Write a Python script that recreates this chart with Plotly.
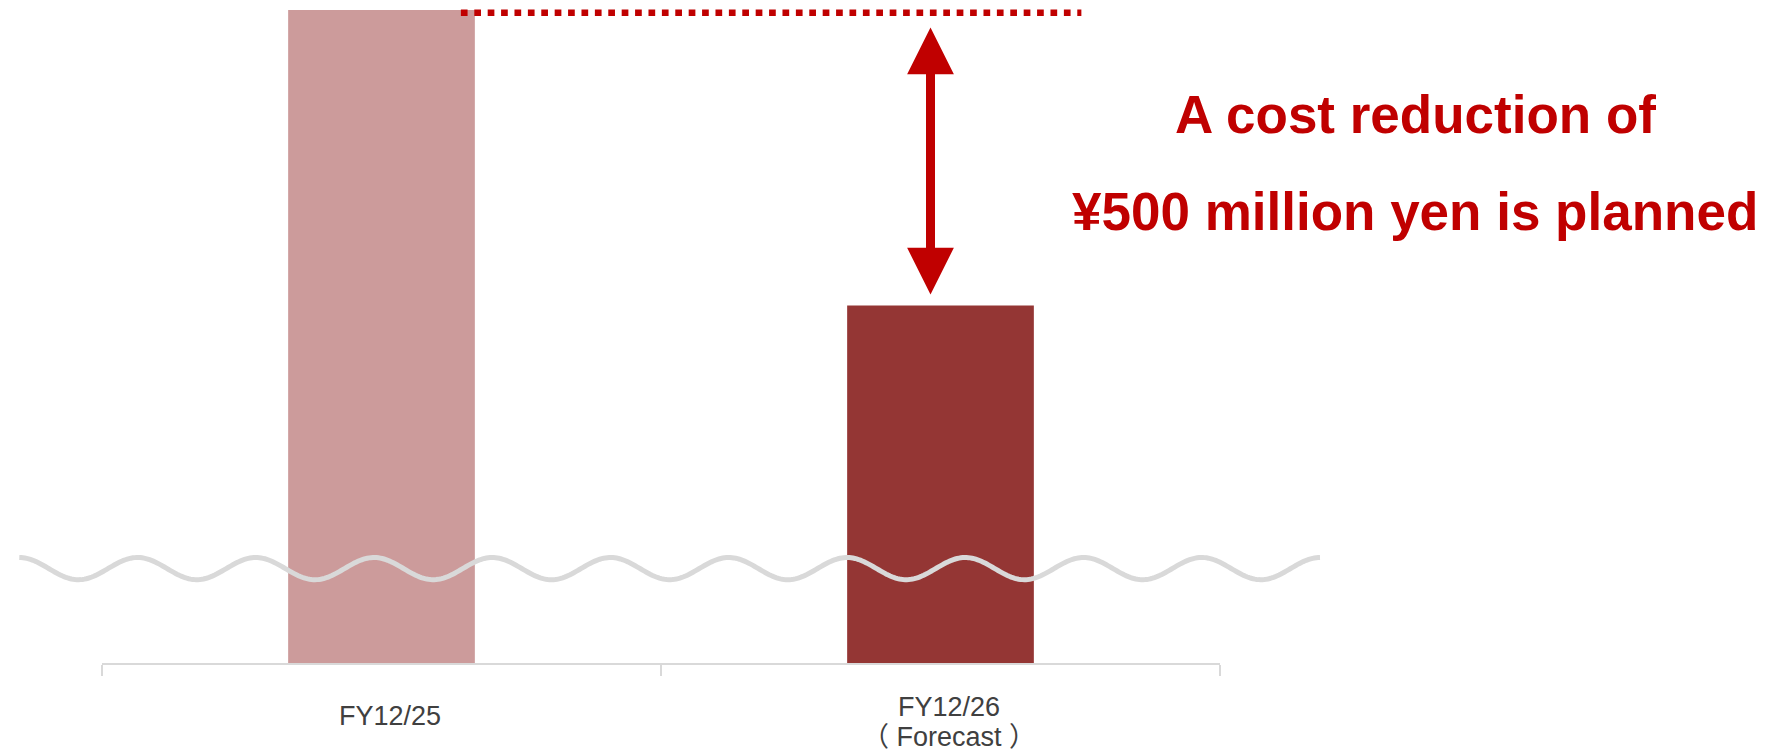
import numpy as np
import plotly.graph_objects as go

# Annual cost in million yen (the value axis is broken below the wavy line)
categories = ["FY12/25", "FY12/26"]
category_notes = ["", "（ Forecast ）"]
costs = [1105, 605]
bar_colors = ["#CC9B9B", "#943634"]
reduction = costs[0] - costs[1]
message_lines = ["A cost reduction of", f"¥{reduction} million yen is planned"]

ACCENT = "#C00000"
GRID_GREY = "#D9D9D9"
LABEL_GREY = "#404040"
FONT = "Liberation Sans, Arial, Noto Sans CJK JP, sans-serif"

W, H = 1786, 751
M_L, M_R, M_T, M_B = 102, 566, 0, 88
PLOT_W = W - M_L - M_R
PLOT_H = H - M_T - M_B
Y_MAX = 1122


def paper_x(px):
    return (px - M_L) / PLOT_W


def paper_y(py):
    return (H - M_B - py) / PLOT_H


fig = go.Figure(
    go.Bar(
        x=categories,
        y=costs,
        marker=dict(color=bar_colors, line=dict(width=0)),
        hoverinfo="skip",
    )
)

# Wavy axis-break line across the bars
wx = np.linspace(19.3, 1320, 700)
wy = 568.6 - 11.1 * np.cos(2 * np.pi * (wx - 19.3) / ((1320 - 19.3) / 11))
wave_path = "M" + " L".join(f"{paper_x(a):.5f},{paper_y(b):.5f}" for a, b in zip(wx, wy))
fig.add_shape(
    type="path",
    xref="paper",
    yref="paper",
    path=wave_path,
    line=dict(color=GRID_GREY, width=5),
    fillcolor="rgba(0,0,0,0)",
    layer="above",
)

# Dotted reference line at last year's cost level
fig.add_shape(
    type="line",
    xref="x",
    yref="y",
    ysizemode="pixel",
    yanchor=costs[0],
    x0=0 + 0.142,
    x1=1 + 0.252,
    y0=-2.7,
    y1=-2.7,
    line=dict(color=ACCENT, width=6.7, dash="dot"),
    layer="above",
)

# Double-headed arrow spanning the reduction
arrow_x = 1 - 10 / (PLOT_W / 2)
fig.add_annotation(
    x=arrow_x,
    y=costs[1],
    ax=arrow_x,
    ay=costs[0],
    xref="x",
    yref="y",
    axref="x",
    ayref="y",
    text="",
    showarrow=True,
    arrowside="end+start",
    arrowhead=2,
    startarrowhead=2,
    arrowsize=1.04,
    startarrowsize=1.04,
    arrowwidth=9,
    arrowcolor=ACCENT,
    standoff=11,
    startstandoff=16,
)

# Message text
for line, baseline in zip(message_lines, [133, 230]):
    fig.add_annotation(
        x=paper_x(1415),
        y=paper_y(baseline - 0.3465 * 53),
        xref="paper",
        yref="paper",
        text=f"<b>{line}</b>",
        showarrow=False,
        xanchor="center",
        yanchor="middle",
        font=dict(family=FONT, size=53, color=ACCENT),
    )

# Category labels under the axis
LABEL_SIZE = 27
for cat, note in zip(categories, category_notes):
    lines = [cat] + ([note] if note else [])
    baselines = [716, 746] if note else [725]
    for text, baseline in zip(lines, baselines):
        fig.add_annotation(
            x=cat,
            xref="x",
            y=paper_y(baseline - 0.3465 * LABEL_SIZE),
            yref="paper",
            text=text,
            showarrow=False,
            xanchor="center",
            yanchor="middle",
            xshift=8.5,
            borderpad=0,
            font=dict(family=FONT, size=LABEL_SIZE, color=LABEL_GREY),
        )

fig.update_layout(
    width=W,
    height=H,
    margin=dict(l=M_L, r=M_R, t=M_T, b=M_B, pad=0),
    paper_bgcolor="white",
    plot_bgcolor="white",
    bargap=0.666,
    showlegend=False,
    font=dict(family=FONT),
    xaxis=dict(
        type="category",
        range=[-0.5, 1.5],
        showgrid=False,
        zeroline=False,
        showline=True,
        linecolor=GRID_GREY,
        linewidth=2,
        ticks="outside",
        tickson="boundaries",
        ticklen=11,
        tickwidth=2,
        tickcolor=GRID_GREY,
        showticklabels=False,
        fixedrange=True,
    ),
    yaxis=dict(
        visible=False,
        range=[0, Y_MAX],
        fixedrange=True,
    ),
)

fig.write_html("out.html", config={"displayModeBar": False})
